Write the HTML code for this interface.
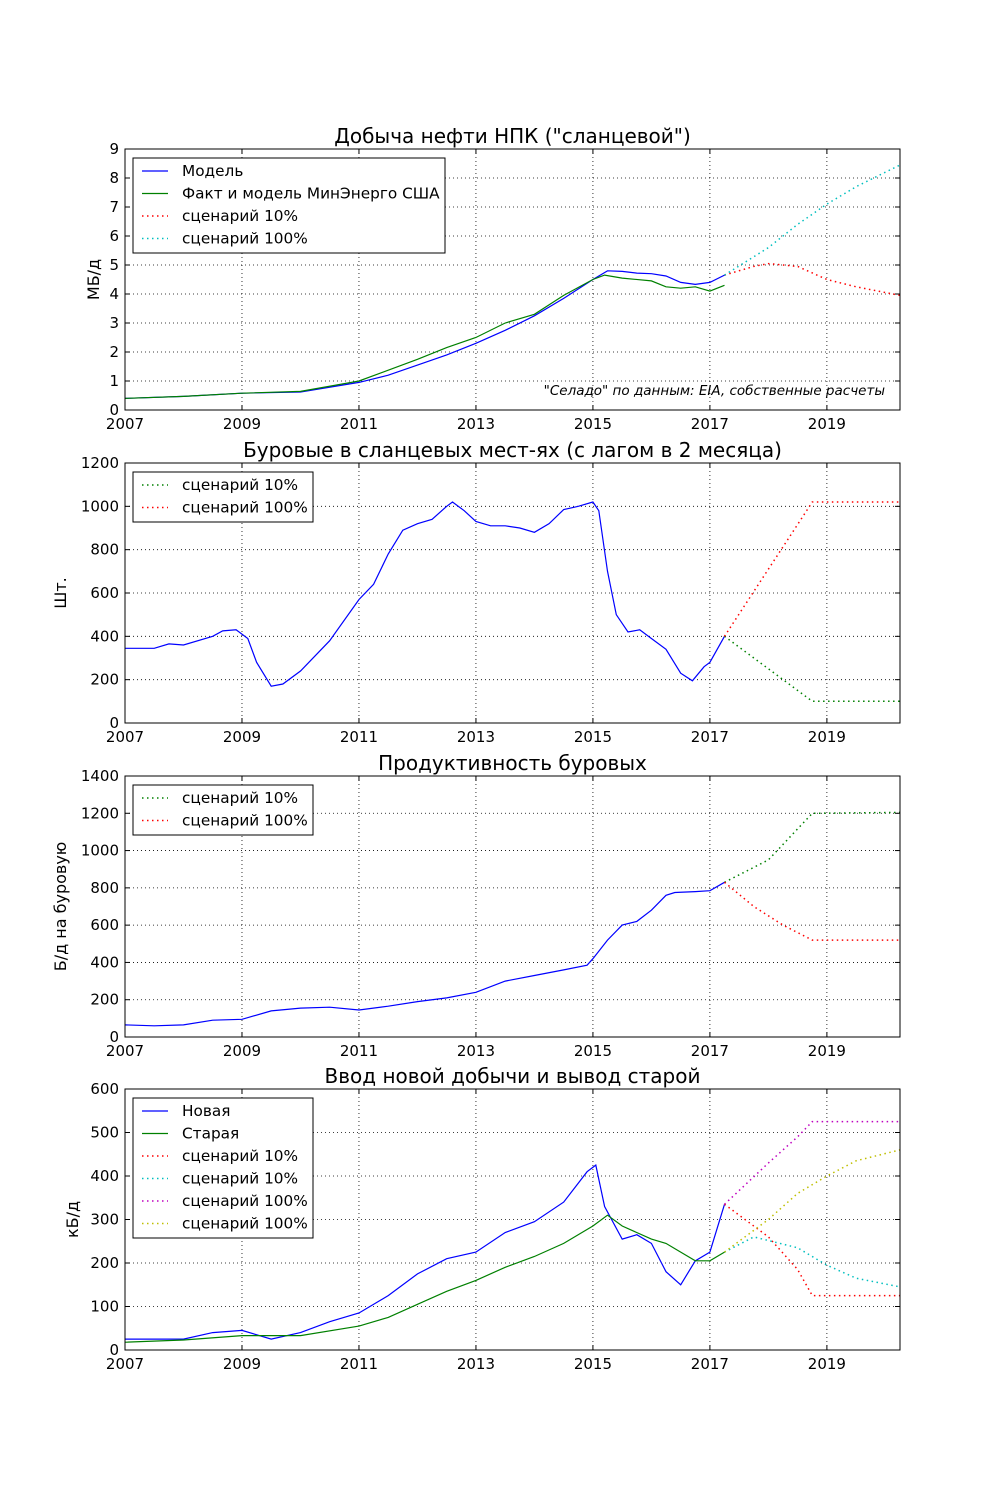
<!DOCTYPE html>
<html><head><meta charset="utf-8"><style>
body{margin:0;background:#fff;}
svg{display:block;font-family:"DejaVu Sans","Liberation Sans",sans-serif;}
</style></head><body>
<svg id="fig" width="1000" height="1500" viewBox="0 0 1000 1500"></svg>
<script>
// ---- Panel 1: production (MB/d)
const p1ModelT=[2007,2008,2009,2010,2011,2011.5,2012,2012.5,2013,2013.5,2014,2014.5,2015,2015.25,2015.5,2015.75,2016,2016.25,2016.5,2016.75,2017,2017.25];
const p1ModelV=[0.4,0.47,0.58,0.62,0.95,1.2,1.55,1.9,2.3,2.75,3.25,3.85,4.5,4.8,4.78,4.72,4.7,4.62,4.4,4.33,4.4,4.65];
const p1FactT=[2007,2008,2009,2010,2011,2012,2012.5,2013,2013.5,2014,2014.5,2015,2015.2,2015.5,2016,2016.25,2016.5,2016.75,2017,2017.25];
const p1FactV=[0.4,0.47,0.58,0.64,1.0,1.75,2.15,2.5,3.0,3.3,3.95,4.5,4.65,4.55,4.45,4.25,4.2,4.25,4.1,4.3];
const p1S10T=[2017.25,2017.75,2018,2018.5,2019,2019.5,2020.25];
const p1S10V=[4.65,4.95,5.05,4.95,4.5,4.25,3.95];
const p1S100T=[2017.25,2018,2018.5,2019,2019.5,2020,2020.25];
const p1S100V=[4.65,5.6,6.4,7.1,7.7,8.2,8.45];
// ---- Panel 2: rigs
const p2T=[2007,2007.5,2007.75,2008,2008.5,2008.67,2008.9,2009.1,2009.25,2009.5,2009.7,2010,2010.5,2011,2011.25,2011.5,2011.75,2012,2012.25,2012.5,2012.6,2012.8,2013,2013.25,2013.5,2013.75,2014,2014.25,2014.5,2014.75,2015,2015.1,2015.25,2015.4,2015.6,2015.8,2016,2016.25,2016.5,2016.7,2016.9,2017,2017.25];
const p2V=[345,345,365,360,400,425,430,390,280,170,180,240,380,570,640,780,890,920,940,1000,1020,980,930,910,910,900,880,920,985,1000,1020,980,700,500,420,430,390,340,230,195,260,280,400];
const p2S10T=[2017.25,2018.75,2020.25];
const p2S10V=[400,100,100];
const p2S100T=[2017.25,2018.75,2020.25];
const p2S100V=[400,1020,1020];
// ---- Panel 3: productivity
const p3T=[2007,2007.5,2008,2008.5,2009,2009.5,2010,2010.5,2011,2011.5,2012,2012.5,2013,2013.5,2014,2014.5,2014.9,2015,2015.25,2015.5,2015.75,2016,2016.25,2016.4,2016.75,2017,2017.25];
const p3V=[65,60,65,90,95,140,155,160,145,165,190,210,240,300,330,360,385,420,520,600,620,680,760,775,780,785,830];
const p3S10T=[2017.25,2018,2018.75,2020.25];
const p3S10V=[830,950,1200,1205];
const p3S100T=[2017.25,2017.75,2018.25,2018.75,2020.25];
const p3S100V=[830,700,600,520,520];
// ---- Panel 4: new / old
const p4NewT=[2007,2008,2008.5,2009,2009.5,2010,2010.5,2011,2011.5,2012,2012.5,2013,2013.5,2014,2014.5,2014.9,2015.05,2015.2,2015.5,2015.75,2016,2016.25,2016.5,2016.75,2017,2017.25];
const p4NewV=[25,25,40,45,25,40,65,85,125,175,210,225,270,295,340,410,425,330,255,265,245,180,150,205,225,335];
const p4OldT=[2007,2008,2009,2010,2011,2011.5,2012,2012.5,2013,2013.5,2014,2014.5,2015,2015.25,2015.5,2016,2016.25,2016.5,2016.75,2017,2017.25];
const p4OldV=[18,23,33,33,55,75,105,135,160,190,215,245,285,310,285,255,245,225,205,205,225];
const p4R10T=[2017.25,2018,2018.5,2018.75,2020.25];
const p4R10V=[335,260,185,125,125];
const p4C10T=[2017.25,2017.75,2018.5,2019,2019.5,2020.25];
const p4C10V=[225,260,235,195,165,145];
const p4M100T=[2017.25,2018,2018.5,2018.75,2020.25];
const p4M100V=[335,430,490,525,525];
const p4Y100T=[2017.25,2018,2018.5,2019,2019.5,2020.25];
const p4Y100V=[225,300,360,400,435,460];
const xTicks=[2007,2009,2011,2013,2015,2017,2019];

const NS="http://www.w3.org/2000/svg";
const svg=document.getElementById('fig');
function mk(tag,attrs,parent){const e=document.createElementNS(NS,tag);for(const k in attrs)e.setAttribute(k,attrs[k]);(parent||svg).appendChild(e);return e;}
const X0=125,X1=900,XMIN=2007,XMAX=2020.25;
const xs=t=>X0+(t-XMIN)/(XMAX-XMIN)*(X1-X0);
const COL={b:'#0000ff',g:'#008000',r:'#ff0000',c:'#00bfbf',m:'#bf00bf',y:'#bfbf00'};

function panel(o){
  const g=mk('g',{});
  
  
  const ys=v=>o.yb-(v-o.ymin)/(o.ymax-o.ymin)*(o.yb-o.yt);
  xTicks.forEach(t=>{const x=xs(t);const l=mk('line',{x1:x,x2:x,y1:o.yt,y2:o.yb,stroke:'#000','stroke-width':0.8,'stroke-dasharray':'1,3'},g);});
  o.yTicks.forEach(v=>{const y=ys(v);const l=mk('line',{x1:X0,x2:X1,y1:y,y2:y,stroke:'#000','stroke-width':0.8,'stroke-dasharray':'1,3'},g);});
  o.series.forEach(s=>{
    const d=s.t.map((t,i)=>(i?'L':'M')+xs(t).toFixed(1)+','+ys(s.v[i]).toFixed(1)).join('');
    const p=mk('path',{d:d,fill:'none',stroke:COL[s.c],'stroke-width':s.dot?1.5:1.2,'stroke-dasharray':s.dot?'1.5,3.5':'none'},g);
    
    
  });
  mk('rect',{x:X0,y:o.yt,width:X1-X0,height:o.yb-o.yt,fill:'none',stroke:'#000','stroke-width':1},g);
  xTicks.forEach(t=>{const x=xs(t);mk('line',{x1:x,x2:x,y1:o.yb,y2:o.yb-5,stroke:'#000'},g);mk('line',{x1:x,x2:x,y1:o.yt,y2:o.yt+5,stroke:'#000'},g);
    const tx=mk('text',{x:x,y:o.yb+19,'text-anchor':'middle','font-size':15},g);tx.textContent=t;});
  o.yTicks.forEach(v=>{const y=ys(v);mk('line',{x1:X0,x2:X0+5,y1:y,y2:y,stroke:'#000'},g);mk('line',{x1:X1,x2:X1-5,y1:y,y2:y,stroke:'#000'},g);
    const tx=mk('text',{x:X0-6,y:y+5,'text-anchor':'end','font-size':15},g);tx.textContent=v;});
  const ti=mk('text',{x:(X0+X1)/2,y:o.yt-6,'text-anchor':'middle','font-size':20},g);ti.textContent=o.title;
  
  const yl=mk('text',{x:0,y:0,'text-anchor':'middle','font-size':16,transform:`translate(${o.ylx},${(o.yt+o.yb)/2}) rotate(-90)`},g);yl.textContent=o.ylabel;
  
  const lg=mk('g',{},g);
  
  
  const n=o.legend.length;
  mk('rect',{x:133,y:o.yt+9,width:o.lw,height:n*22.5+5,fill:'#fff',stroke:'#000','stroke-width':1},lg);
  o.legend.forEach((e,i)=>{const y=o.yt+22+i*22.5;
    mk('line',{x1:142,x2:168,y1:y,y2:y,stroke:COL[e.c],'stroke-width':e.dot?1.5:1.2,'stroke-dasharray':e.dot?'1.5,3.5':'none'},lg);
    const tx=mk('text',{x:182,y:y+5,'font-size':15.3},lg);tx.textContent=e.l;
    });
  return {g,ys};
}

const a=panel({name:'production-panel',yt:149,yb:410,ymin:0,ymax:9,yTicks:[0,1,2,3,4,5,6,7,8,9],title:'Добыча нефти НПК ("сланцевой")',ylabel:'МБ/д',ylx:99,lw:312,
 series:[{t:p1ModelT,v:p1ModelV,c:'b',n:'model-line'},{t:p1FactT,v:p1FactV,c:'g',n:'fact-line'},{t:p1S10T,v:p1S10V,c:'r',dot:1,n:'scenario-10-line'},{t:p1S100T,v:p1S100V,c:'c',dot:1,n:'scenario-100-line'}],
 legend:[{c:'b',l:'Модель'},{c:'g',l:'Факт и модель МинЭнерго США'},{c:'r',dot:1,l:'сценарий 10%'},{c:'c',dot:1,l:'сценарий 100%'}]});
const an=mk('text',{x:885,y:395,'text-anchor':'end','font-size':13.5,'font-style':'italic'},a.g);an.textContent='"Селадо" по данным: EIA, собственные расчеты';


panel({name:'rigs-panel',yt:463,yb:723,ymin:0,ymax:1200,yTicks:[0,200,400,600,800,1000,1200],title:'Буровые в сланцевых мест-ях (с лагом в 2 месяца)',ylabel:'Шт.',ylx:66,lw:180,
 series:[{t:p2T,v:p2V,c:'b',n:'rigs-line'},{t:p2S10T,v:p2S10V,c:'g',dot:1,n:'scenario-10-line'},{t:p2S100T,v:p2S100V,c:'r',dot:1,n:'scenario-100-line'}],
 legend:[{c:'g',dot:1,l:'сценарий 10%'},{c:'r',dot:1,l:'сценарий 100%'}]});

panel({name:'productivity-panel',yt:776,yb:1037,ymin:0,ymax:1400,yTicks:[0,200,400,600,800,1000,1200,1400],title:'Продуктивность буровых',ylabel:'Б/д на буровую',ylx:66,lw:180,
 series:[{t:p3T,v:p3V,c:'b',n:'productivity-line'},{t:p3S10T,v:p3S10V,c:'g',dot:1,n:'scenario-10-line'},{t:p3S100T,v:p3S100V,c:'r',dot:1,n:'scenario-100-line'}],
 legend:[{c:'g',dot:1,l:'сценарий 10%'},{c:'r',dot:1,l:'сценарий 100%'}]});

panel({name:'new-old-panel',yt:1089,yb:1350,ymin:0,ymax:600,yTicks:[0,100,200,300,400,500,600],title:'Ввод новой добычи и вывод старой',ylabel:'кБ/д',ylx:78,lw:180,
 series:[{t:p4NewT,v:p4NewV,c:'b',n:'new-line'},{t:p4OldT,v:p4OldV,c:'g',n:'old-line'},{t:p4R10T,v:p4R10V,c:'r',dot:1,n:'new-scenario-10-line'},{t:p4C10T,v:p4C10V,c:'c',dot:1,n:'old-scenario-10-line'},{t:p4M100T,v:p4M100V,c:'m',dot:1,n:'new-scenario-100-line'},{t:p4Y100T,v:p4Y100V,c:'y',dot:1,n:'old-scenario-100-line'}],
 legend:[{c:'b',l:'Новая'},{c:'g',l:'Старая'},{c:'r',dot:1,l:'сценарий 10%'},{c:'c',dot:1,l:'сценарий 10%'},{c:'m',dot:1,l:'сценарий 100%'},{c:'y',dot:1,l:'сценарий 100%'}]});
</script>
</body></html>
